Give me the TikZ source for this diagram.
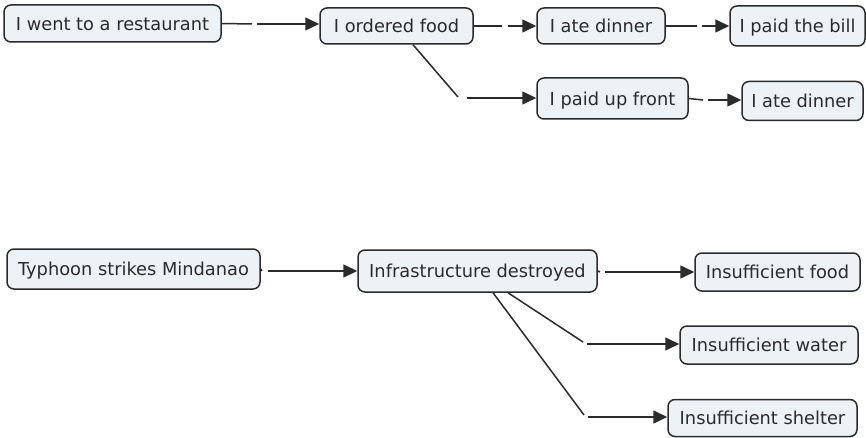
\documentclass[tikz,border=0pt]{standalone}
\usepackage{fontspec}
\setmainfont{DejaVu Sans}
\usetikzlibrary{arrows.meta}
\definecolor{boxfill}{HTML}{EDF2F6}
\definecolor{ink}{HTML}{2B2B2B}
\begin{document}
\begin{tikzpicture}[x=1pt,y=-1pt,
  concept/.style={draw=ink, fill=boxfill, rounded corners=7pt, line width=1.5pt,
    inner sep=0pt, text height=13.5pt, text depth=0pt,
    font=\fontsize{17.8}{20}\selectfont, text=ink},
  link/.style={draw=ink, line width=1.5pt},
  arr/.style={link, -{Triangle[length=14pt,width=13pt]}}]
\useasboundingbox (0,0) rectangle (866,438);
% top map
\node[concept, minimum width=217pt, minimum height=37pt] (rest) at (112.5,23.5) {I went to a restaurant};
\node[concept, minimum width=153pt, minimum height=36pt] (ord) at (396.5,26) {I ordered food};
\node[concept, minimum width=128pt, minimum height=36pt] (ate1) at (601,26) {I ate dinner};
\node[concept, minimum width=135pt, minimum height=40pt] (bill) at (797.5,26) {I paid the bill};
\node[concept, minimum width=151pt, minimum height=41pt] (front) at (612.5,98.5) {I paid up front};
\node[concept, minimum width=121pt, minimum height=39pt] (ate2) at (802.5,101) {I ate dinner};
% bottom map
\node[concept, minimum width=253pt, minimum height=40pt] (typh) at (133.5,269) {Typhoon strikes Mindanao};
\node[concept, minimum width=239pt, minimum height=42pt] (infra) at (477.5,271) {Infrastructure destroyed};
\node[concept, minimum width=165pt, minimum height=38pt] (food) at (777.5,272) {Insufficient food};
\node[concept, minimum width=178pt, minimum height=38pt] (water) at (769,345) {Insufficient water};
\node[concept, minimum width=189pt, minimum height=37pt] (shelter) at (762.5,418) {Insufficient shelter};
% link joints
\coordinate (a1) at (252,24);  \coordinate (b1) at (257,24);
\coordinate (a2) at (502,26);  \coordinate (b2) at (508,26);
\coordinate (a3) at (697,26);  \coordinate (b3) at (702,26);
\coordinate (a4) at (458,97);  \coordinate (b4) at (467,98);
\coordinate (a5) at (703,100); \coordinate (b5) at (708,100);
\coordinate (a6) at (262,271); \coordinate (b6) at (268,271);
\coordinate (a7) at (600,272); \coordinate (b7) at (605,272);
\coordinate (a8) at (583,342); \coordinate (b8) at (587,344);
\coordinate (a9) at (584,415); \coordinate (b9) at (588,417);
% connectors
\draw[link] (rest.east) -- (a1);  \draw[arr] (b1) -- (b1 -| ord.west);
\draw[link] (ord.east) -- (a2);   \draw[arr] (b2) -- (b2 -| ate1.west);
\draw[link] (ate1.east) -- (a3);  \draw[arr] (b3) -- (b3 -| bill.west);
\draw[link] ([xshift=16.5pt]ord.south) -- (a4); \draw[arr] (b4) -- (b4 -| front.west);
\draw[link] (front.east) -- (a5); \draw[arr] (b5) -- (b5 -| ate2.west);
\draw[link] (typh.east) -- (a6);  \draw[arr] (b6) -- (b6 -| infra.west);
\draw[link] (infra.east) -- (a7); \draw[arr] (b7) -- (b7 -| food.west);
\draw[link] ([xshift=30.5pt]infra.south) -- (a8); \draw[arr] (b8) -- (b8 -| water.west);
\draw[link] ([xshift=15.5pt]infra.south) -- (a9); \draw[arr] (b9) -- (b9 -| shelter.west);
\end{tikzpicture}
\end{document}
